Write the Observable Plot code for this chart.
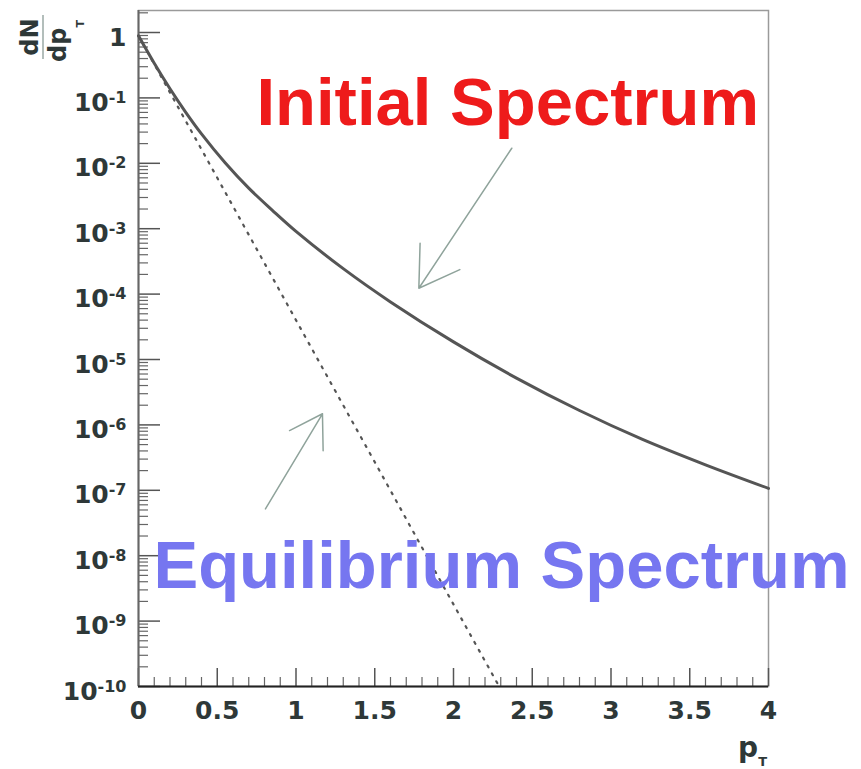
<!DOCTYPE html>
<html>
<head>
<meta charset="utf-8">
<script src="https://cdn.jsdelivr.net/npm/d3@7"></script>
<script src="https://cdn.jsdelivr.net/npm/@observablehq/plot@0.6"></script>
<style>
  html, body { margin: 0; padding: 0; background: #fff; }
  #chart svg { display: block; }
</style>
</head>
<body>
<div id="chart"></div>
<script>
// ---- data ----
const initialPT  = [0, 0.1, 0.2, 0.3, 0.4, 0.55, 0.7, 0.85, 1.0, 1.3, 1.6, 2.0, 2.4, 2.8, 3.2, 3.6, 4.0];
const initialVal = [0.891, 0.339, 0.138, 0.0603, 0.0282, 0.0102, 4.17e-3, 1.91e-3, 9.1e-4, 2.45e-4, 7.6e-5, 1.86e-5, 5.2e-6, 1.66e-6, 6.0e-7, 2.45e-7, 1.07e-7];

const equilPT  = [0, 0.5, 1.0, 1.5, 2.0, 2.29];
const equilVal = [0.89, 6.0e-3, 4.0e-5, 2.7e-7, 1.8e-9, 1e-10];

const xTicks = [0, 0.5, 1, 1.5, 2, 2.5, 3, 3.5, 4];
const xTickLabels = ["0", "0.5", "1", "1.5", "2", "2.5", "3", "3.5", "4"];
const yTicks = [1e-10, 1e-9, 1e-8, 1e-7, 1e-6, 1e-5, 1e-4, 1e-3, 1e-2, 1e-1, 1];
const yTickLabels = ["10^-10", "10^-9", "10^-8", "10^-7", "10^-6", "10^-5", "10^-4", "10^-3", "10^-2", "10^-1", "1"];

const annotText  = ["Initial Spectrum", "Equilibrium Spectrum"];
const annotX     = [0.749, 0.095];
const annotY     = [0.038, 3.16e-9];
const annotColor = ["#ee1b1b", "#7676f0"];

const arrowX1 = [2.37, 0.806];
const arrowY1 = [0.017, 5.2e-8];
const arrowX2 = [1.78, 1.168];
const arrowY2 = [1.23e-4, 1.48e-6];

// ---- derived tables ----
const initial = initialPT.map((p, i) => ({p, v: initialVal[i]}));
const equil = equilPT.map((p, i) => ({p, v: equilVal[i]}));
const annots = annotText.map((t, i) => ({t, x: annotX[i], y: annotY[i], c: annotColor[i]}));
const arrows = arrowX1.map((x1, i) => ({x1, y1: arrowY1[i], x2: arrowX2[i], y2: arrowY2[i]}));

const yDomain = [1e-10, 2.17];
const yMinor = [];
for (let e = -10; e <= 0; e++) for (let m = 2; m <= 9; m++) {
  const v = m * Math.pow(10, e);
  if (v <= yDomain[1]) yMinor.push(v);
}
const xMinor = [];
for (let k = 0; k <= 40; k++) if (k % 5 !== 0) xMinor.push(k / 10);

const W = 861, H = 769, mL = 138, mR = 93, mT = 10, mB = 83;
const innerW = W - mL - mR, innerH = H - mT - mB;

const tickFont = "'DejaVu Sans', 'Liberation Sans', sans-serif";
const bigFont = "'Liberation Sans', Arial, Helvetica, sans-serif";

const svg = Plot.plot({
  width: W, height: H,
  marginLeft: mL, marginRight: mR, marginTop: mT, marginBottom: mB,
  style: {fontFamily: tickFont, fontWeight: "bold", fontSize: "25px", color: "#333", background: "#fff"},
  x: {domain: [0, 4]},
  y: {type: "log", domain: yDomain},
  marks: [
    Plot.frame({stroke: "#9a9a9a", strokeWidth: 1.5}),
    // inward ticks
    Plot.ruleY(yTicks, {stroke: "#555", strokeWidth: 1.5, insetRight: innerW - 22}),
    Plot.ruleY(yMinor, {stroke: "#666", strokeWidth: 1.2, insetRight: innerW - 10}),
    Plot.ruleX(xTicks, {stroke: "#555", strokeWidth: 1.5, insetTop: innerH - 18}),
    Plot.ruleX(xMinor, {stroke: "#666", strokeWidth: 1.2, insetTop: innerH - 9}),
    Plot.ruleX([0], {stroke: "#666", strokeWidth: 2}),
    Plot.ruleY([yDomain[0]], {stroke: "#222", strokeWidth: 2.2}),
    Plot.axisX({ticks: xTicks, tickSize: 0, tickPadding: 15,
      tickFormat: d => xTickLabels[xTicks.indexOf(d)], fontSize: 25, fill: "#2e3838"}),
    Plot.axisY({ticks: yTicks, tickSize: 0, tickPadding: 12, dy: 5,
      tickFormat: d => yTickLabels[yTicks.indexOf(d)], fontSize: 25, fill: "#2e3838"}),
    // curves
    Plot.line(initial, {x: "p", y: "v", stroke: "#555", strokeWidth: 3, curve: "catmull-rom"}),
    Plot.line(equil, {x: "p", y: "v", stroke: "#555", strokeWidth: 2.2, strokeDasharray: "2,7", strokeLinecap: "round", curve: "monotone-x"}),
    // annotation arrows
    Plot.arrow(arrows, {x1: "x1", y1: "y1", x2: "x2", y2: "y2", stroke: "#8fa39b", strokeWidth: 1.5, headAngle: 64, headLength: 45}),
    // annotation texts
    Plot.text(annots, {x: "x", y: "y", text: "t", fill: "c", textAnchor: "start", lineAnchor: "bottom",
      fontSize: 67, fontWeight: "bold", fontFamily: bigFont})
  ]
});

document.getElementById("chart").appendChild(svg);

// superscript exponents on y tick labels
d3.select(svg).selectAll('g[aria-label="y-axis tick label"] text').each(function () {
  const s = this.textContent;
  const k = s.indexOf("^");
  if (k >= 0) {
    const base = s.slice(0, k), exp = s.slice(k + 1);
    const t = d3.select(this);
    t.text(base);
    t.append("tspan").attr("dy", "-0.5em").attr("font-size", "16px").text(exp);
  }
});

// axis titles
const ylab = d3.select(svg).append("g")
  .attr("transform", "translate(43,37) rotate(-90)")
  .attr("font-family", tickFont).attr("font-weight", "bold").attr("fill", "#2e3838");
ylab.append("text").attr("x", 0).attr("y", -5).attr("text-anchor", "middle").attr("font-size", 24).text("dN");
ylab.append("line").attr("x1", -22).attr("x2", 22).attr("y1", 0).attr("y2", 0).attr("stroke", "#9aa8a4").attr("stroke-width", 1.5);
const dp = ylab.append("text").attr("x", -4).attr("y", 23).attr("text-anchor", "middle").attr("font-size", 24).text("dp");
dp.append("tspan").attr("dy", 18).attr("font-size", 11).text("T");

const xlab = d3.select(svg).append("text")
  .attr("x", 767).attr("y", 757).attr("text-anchor", "end")
  .attr("font-family", tickFont).attr("font-weight", "bold").attr("fill", "#2e3838").attr("font-size", 28)
  .text("p");
xlab.append("tspan").attr("dy", 9).attr("font-size", 13).text("T");
</script>
</body>
</html>
